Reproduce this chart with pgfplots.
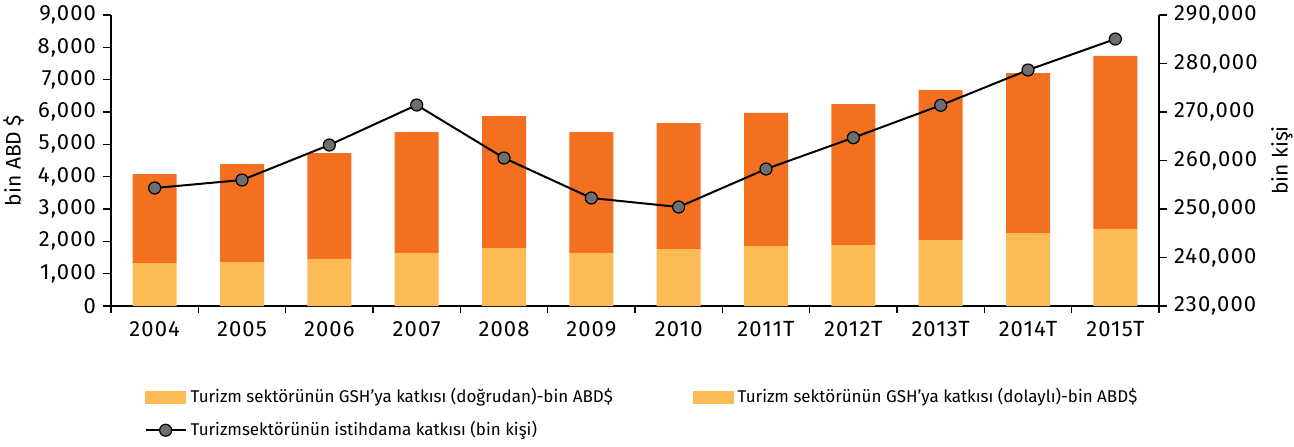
\documentclass[border=0pt]{standalone}
\usepackage{pgfplots}
\pgfplotsset{compat=1.18}
\usepackage{fontspec}
\setmainfont{Fira Sans}
\definecolor{lightor}{HTML}{FDBB55}
\definecolor{darkor}{HTML}{F37021}
\definecolor{mgray}{HTML}{6D6E70}
\begin{document}
\begin{tikzpicture}
\path[use as bounding box] (-55.5pt,-70pt) rectangle (591.5pt,153pt);
\pgfplotsset{
  base/.style={
    at={(0,0)}, anchor=south west,
    width=524pt, height=145.5pt, scale only axis,
    xmin=-0.5, xmax=11.5,
    tick align=outside,
    scaled y ticks=false,
    tick label style={font=\fontsize{11}{12}\selectfont\addfontfeature{LetterSpace=5}},
    label style={font=\fontsize{10.5}{12}\selectfont},
    axis line style={line width=0.6pt},
    tick style={line width=0.6pt, black},
  }
}
\begin{axis}[base,
  ybar stacked, bar width=22pt,
  ymin=0, ymax=9000, ytick={0,1000,2000,3000,4000,5000,6000,7000,8000,9000},
  yticklabels={0,{1,000},{2,000},{3,000},{4,000},{5,000},{6,000},{7,000},{8,000},{9,000}},
  axis y line*=left, axis x line*=bottom,
  xtick={0,...,11},
  xticklabels={2004,2005,2006,2007,2008,2009,2010,2011T,2012T,2013T,2014T,2015T},
  major x tick style={draw=none},
  minor xtick={-0.5,0.5,...,11.5},
  minor tick length=3.5pt, major tick length=4pt,
  ylabel={bin ABD \$},
  ylabel style={yshift=0pt},
  legend style={draw=none, at={(0.026,-0.255)}, anchor=north west,
    font=\fontsize{8.5}{10}\selectfont, column sep=0pt, row sep=3.8pt,
    /tikz/column 2/.style={column sep=38pt},
    nodes={inner xsep=2pt}},
  legend cell align=left,
  legend columns=2,
]
\addplot[fill=lightor, draw=none, forget plot] coordinates {
(0,1330) (1,1361) (2,1454) (3,1640) (4,1794) (5,1640) (6,1763) (7,1856) (8,1887) (9,2041) (10,2258) (11,2382)};
\addplot[fill=darkor, draw=none, forget plot] coordinates {
(0,2753) (1,3031) (2,3278) (3,3742) (4,4083) (5,3742) (6,3897) (7,4114) (8,4361) (9,4640) (10,4949) (11,5351)};
\addlegendimage{legend image code/.code={\fill[lightor] (0pt,-2.9pt) rectangle (20pt,2.9pt);}}
\addlegendentry{Turizm sektörünün GSH’ya katkısı (doğrudan)-bin ABD\$}
\addlegendimage{legend image code/.code={\fill[lightor] (0pt,-2.9pt) rectangle (20pt,2.9pt);}}
\addlegendentry{Turizm sektörünün GSH’ya katkısı (dolaylı)-bin ABD\$}
\addlegendimage{legend image code/.code={\draw[black, line width=1pt] (0pt,0pt) -- (20pt,0pt); \filldraw[fill=mgray, draw=black, line width=0.6pt] (10pt,0pt) circle (3pt);}}
\addlegendentry{Turizmsektörünün istihdama katkısı (bin kişi)}
\end{axis}
\begin{axis}[base,
  ymin=230000, ymax=290000, ytick={230000,240000,250000,260000,270000,280000,290000},
  yticklabels={{230,000},{240,000},{250,000},{260,000},{270,000},{280,000},{290,000}},
  axis y line*=right, axis x line=none,
  major tick length=4pt,
  ylabel={bin kişi},
]
\addplot[black, line width=1pt, mark=*, mark size=3pt, mark options={fill=mgray, draw=black, line width=0.6pt}] coordinates {
(0,254330) (1,255979) (2,263196) (3,271443) (4,260515) (5,252268) (6,250412) (7,258247) (8,264700) (9,271380) (10,278660) (11,285050)};
\end{axis}
\end{tikzpicture}
\end{document}
